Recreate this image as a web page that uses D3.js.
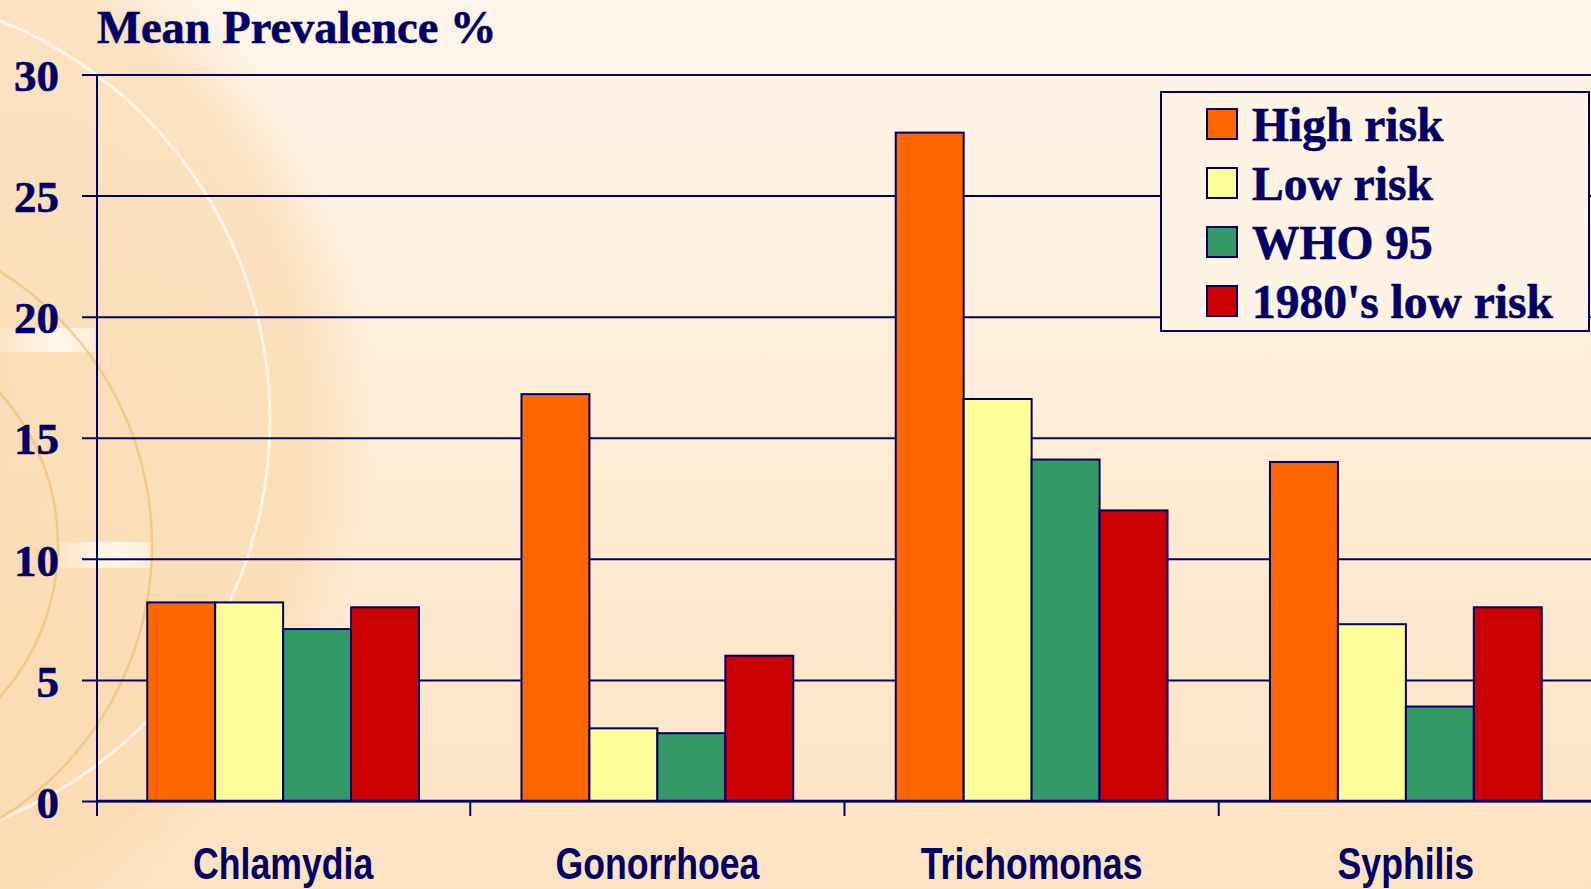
<!DOCTYPE html>
<html>
<head>
<meta charset="utf-8">
<script src="https://cdn.jsdelivr.net/npm/d3@7"></script>
<style>
  html, body { margin: 0; padding: 0; overflow: hidden; }
  svg { display: block; }
</style>
</head>
<body>
<script>
const categories = ['Chlamydia', 'Gonorrhoea', 'Trichomonas', 'Syphilis']
const seriesNames = ['High risk', 'Low risk', 'WHO 95', "1980's low risk"]
const highRisk = [8.2, 16.8, 27.6, 14.0]
const lowRisk = [8.2, 3.0, 16.6, 7.3]
const who95 = [7.1, 2.8, 14.1, 3.9]
const lowRisk1980s = [8.0, 6.0, 12.0, 8.0]
const yTicks = [0, 5, 10, 15, 20, 25, 30]
const yTitle = 'Mean Prevalence %'

const seriesValues = [highRisk, lowRisk, who95, lowRisk1980s]
const colors = ['#ff6600', '#ffff99', '#339966', '#cc0000']
const navy = '#000066'
const serif = "'Liberation Serif', 'Times New Roman', serif"

const width = 1591
const height = 889
const margin = { top: 74.5, left: 97 }
const plotRight = 1594
const baseY = 801

const svg = d3.select('body')
	.append('svg')
	.attr('width', width)
	.attr('height', height)

// background: slide template look
const defs = svg.append('defs')
const bg = defs.append('linearGradient')
	.attr('id', 'bg')
	.attr('x1', 0).attr('y1', 0).attr('x2', 0).attr('y2', 1)
bg.append('stop').attr('offset', '0%').attr('stop-color', '#fef5ea')
bg.append('stop').attr('offset', '100%').attr('stop-color', '#fde3c2')

const glow = defs.append('radialGradient')
	.attr('id', 'glow')
glow.append('stop').attr('offset', '0%').attr('stop-color', '#fad6a8').attr('stop-opacity', 0.7)
glow.append('stop').attr('offset', '88%').attr('stop-color', '#fad6a8').attr('stop-opacity', 0.6)
glow.append('stop').attr('offset', '100%').attr('stop-color', '#fad6a8').attr('stop-opacity', 0)

const band = defs.append('linearGradient')
	.attr('id', 'band')
	.attr('x1', 0).attr('y1', 0).attr('x2', 1).attr('y2', 0)
band.append('stop').attr('offset', '0%').attr('stop-color', '#fffaf3').attr('stop-opacity', 0.2)
band.append('stop').attr('offset', '60%').attr('stop-color', '#fffaf3').attr('stop-opacity', 0.9)
band.append('stop').attr('offset', '100%').attr('stop-color', '#fffaf3').attr('stop-opacity', 0.5)

svg.append('rect')
	.attr('width', width)
	.attr('height', height)
	.attr('fill', 'url(#bg)')

const deco = svg.append('g')
deco.append('circle')
	.attr('cx', -200).attr('cy', 420).attr('r', 575)
	.attr('fill', 'url(#glow)')
deco.append('circle')
	.attr('cx', -160).attr('cy', 420).attr('r', 430)
	.attr('fill', 'none')
	.attr('stroke', '#fffaf2')
	.attr('stroke-width', 3)
	.attr('opacity', 0.8)
deco.append('rect')
	.attr('x', 0).attr('y', 328).attr('width', 95).attr('height', 24)
	.attr('fill', 'url(#band)')
deco.append('rect')
	.attr('x', 55).attr('y', 542).attr('width', 96).attr('height', 26)
	.attr('fill', 'url(#band)')
deco.append('circle')
	.attr('cx', -170).attr('cy', 545).attr('r', 322)
	.attr('fill', 'none')
	.attr('stroke', '#f0c075')
	.attr('stroke-width', 2.5)
	.attr('opacity', 0.7)
deco.append('circle')
	.attr('cx', -170).attr('cy', 545).attr('r', 228)
	.attr('fill', 'none')
	.attr('stroke', '#f0c075')
	.attr('stroke-width', 2.5)
	.attr('opacity', 0.7)

// scales
const y = d3.scaleLinear()
	.domain([0, 30])
	.range([baseY, margin.top])

const x0 = d3.scaleBand()
	.domain(categories)
	.range([margin.left - 1, plotRight - 1])
	.paddingInner(0)
	.paddingOuter(0)

const x1 = d3.scaleBand()
	.domain(seriesNames)
	.range([0, x0.bandwidth()])
	.paddingInner(0)
	.paddingOuter(0.754)

// title
svg.append('text')
	.attr('x', 97)
	.attr('y', 43)
	.attr('fill', navy)
	.attr('stroke', navy)
	.attr('stroke-width', 0.6)
	.style('font-family', serif)
	.style('font-weight', 'bold')
	.style('font-size', '46.5px')
	.text(yTitle)

// grid + y ticks
const yAxis = d3.axisLeft(y)
	.tickValues(yTicks)
	.tickSize(-(plotRight - margin.left))
	.tickSizeOuter(0)
	.tickPadding(38)
	.tickFormat(d3.format('d'))

const gy = svg.append('g')
	.attr('transform', `translate(${margin.left},0)`)
	.call(yAxis)
gy.select('.domain').remove()
gy.selectAll('.tick line')
	.attr('x1', -15)
	.attr('stroke', navy)
	.attr('stroke-width', 2)
gy.selectAll('.tick text')
	.attr('fill', navy)
	.attr('stroke', navy)
	.attr('stroke-width', 0.6)
	.attr('dy', '0.36em')
	.style('font-family', serif)
	.style('font-weight', 'bold')
	.style('font-size', '45px')

// bars
const groups = svg.append('g')
	.selectAll('g')
	.data(categories)
	.join('g')
	.attr('transform', d => `translate(${x0(d)},0)`)

groups.selectAll('rect')
	.data((c, ci) => seriesNames.map((s, si) => ({ s, si, v: seriesValues[si][ci] })))
	.join('rect')
	.attr('x', d => x1(d.s))
	.attr('y', d => y(d.v))
	.attr('width', x1.bandwidth())
	.attr('height', d => baseY - y(d.v))
	.attr('fill', d => colors[d.si])
	.attr('stroke', navy)
	.attr('stroke-width', 2)

// axes lines
svg.append('line')
	.attr('x1', margin.left).attr('x2', margin.left)
	.attr('y1', margin.top).attr('y2', baseY + 15)
	.attr('stroke', navy)
	.attr('stroke-width', 2)

svg.append('line')
	.attr('x1', margin.left).attr('x2', plotRight)
	.attr('y1', baseY).attr('y2', baseY)
	.attr('stroke', navy)
	.attr('stroke-width', 2.5)

svg.append('g')
	.selectAll('line')
	.data(categories.slice(1))
	.join('line')
	.attr('x1', d => x0(d)).attr('x2', d => x0(d))
	.attr('y1', baseY).attr('y2', baseY + 15)
	.attr('stroke', navy)
	.attr('stroke-width', 2)

// category labels, narrow bold sans
svg.append('g')
	.selectAll('text')
	.data(categories)
	.join('text')
	.attr('transform', d => `translate(${x0(d) + x0.bandwidth() / 2},879) scale(0.81,1)`)
	.attr('text-anchor', 'middle')
	.attr('fill', navy)
	.style('font-family', "'Liberation Sans', Arial, sans-serif")
	.style('font-weight', 'bold')
	.style('font-size', '44px')
	.text(d => d)

// legend
const legend = svg.append('g')
legend.append('rect')
	.attr('x', 1161)
	.attr('y', 92)
	.attr('width', 428)
	.attr('height', 239)
	.attr('fill', '#fff3e6')
	.attr('stroke', navy)
	.attr('stroke-width', 2)

const items = legend.selectAll('g')
	.data(seriesNames)
	.join('g')
	.attr('transform', (d, i) => `translate(1207,${109 + i * 59})`)

items.append('rect')
	.attr('width', 30)
	.attr('height', 30)
	.attr('fill', (d, i) => colors[i])
	.attr('stroke', navy)
	.attr('stroke-width', 2)

items.append('text')
	.attr('x', 45)
	.attr('y', 32)
	.attr('fill', navy)
	.attr('stroke', navy)
	.attr('stroke-width', 0.6)
	.style('font-family', serif)
	.style('font-weight', 'bold')
	.style('font-size', '47.5px')
	.text(d => d)
</script>
</body>
</html>
